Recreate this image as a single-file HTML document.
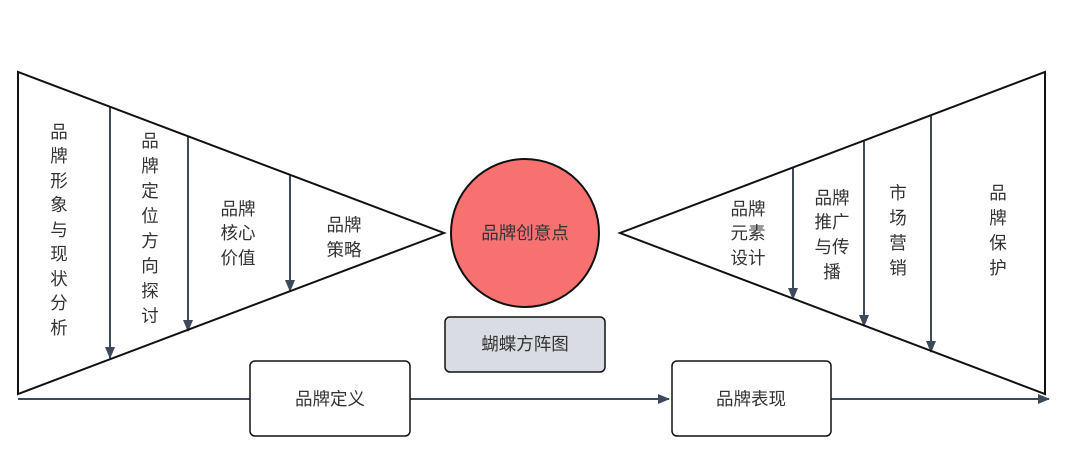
<!DOCTYPE html>
<html><head><meta charset="utf-8"><style>
body{margin:0;width:1070px;height:467px;background:#fff;overflow:hidden}
svg text{font-family:"Liberation Sans","Noto Sans CJK SC",sans-serif;font-size:17.5px;fill:#333;text-anchor:middle;dominant-baseline:central}
</style></head><body>
<svg width="1070" height="467" xmlns="http://www.w3.org/2000/svg">
<defs><marker id="a" markerWidth="12" markerHeight="10" refX="11" refY="5" orient="auto" markerUnits="userSpaceOnUse"><path d="M0,0 L12,5 L0,10 Z" fill="#3d4a5c"/></marker></defs>
<g stroke="#3d4a5c" stroke-width="2" fill="none">
<line x1="18" y1="399" x2="669" y2="399" marker-end="url(#a)"/>
<line x1="831" y1="399" x2="1049" y2="399" marker-end="url(#a)"/>
<line x1="110" y1="107" x2="110" y2="358" marker-end="url(#a)"/>
<line x1="188" y1="136" x2="188" y2="331" marker-end="url(#a)"/>
<line x1="290" y1="175" x2="290" y2="291" marker-end="url(#a)"/>
<line x1="793" y1="167" x2="793" y2="299" marker-end="url(#a)"/>
<line x1="864" y1="140" x2="864" y2="326" marker-end="url(#a)"/>
<line x1="931" y1="115" x2="931" y2="352" marker-end="url(#a)"/>
</g>
<polygon points="18,72 18,394 444,233" fill="none" stroke="#111" stroke-width="2"/>
<polygon points="1045,72 1045,394 620,233" fill="none" stroke="#111" stroke-width="2"/>
<circle cx="525" cy="233" r="74" fill="#f87171" stroke="#111" stroke-width="2"/>
<rect x="445" y="317" width="160" height="55" rx="5" fill="#d9dce3" stroke="#111" stroke-width="1.5"/>
<rect x="250" y="361" width="160" height="75" rx="5" fill="#fff" stroke="#111" stroke-width="1.5"/>
<rect x="672" y="361" width="159" height="75" rx="5" fill="#fff" stroke="#111" stroke-width="1.5"/>
<text x="525" y="233">品牌创意点</text>
<text x="525" y="344">蝴蝶方阵图</text>
<text x="330" y="399">品牌定义</text>
<text x="751" y="399">品牌表现</text>
<g>
<text x="59" y="132">品</text><text x="59" y="156">牌</text><text x="59" y="181">形</text><text x="59" y="205">象</text><text x="59" y="230">与</text><text x="59" y="254">现</text><text x="59" y="279">状</text><text x="59" y="303">分</text><text x="59" y="328">析</text>
<text x="150" y="141">品</text><text x="150" y="166">牌</text><text x="150" y="191">定</text><text x="150" y="216">位</text><text x="150" y="241">方</text><text x="150" y="266">向</text><text x="150" y="291">探</text><text x="150" y="316">讨</text>
<text x="238" y="209">品牌</text><text x="238" y="233">核心</text><text x="238" y="258">价值</text>
<text x="344" y="225">品牌</text><text x="344" y="250">策略</text>
<text x="748" y="209">品牌</text><text x="748" y="233">元素</text><text x="748" y="258">设计</text>
<text x="832" y="198">品牌</text><text x="832" y="222">推广</text><text x="832" y="247">与传</text><text x="832" y="272">播</text>
<text x="898" y="193">市</text><text x="898" y="218">场</text><text x="898" y="243">营</text><text x="898" y="268">销</text>
<text x="998" y="193">品</text><text x="998" y="218">牌</text><text x="998" y="243">保</text><text x="998" y="268">护</text>
</g>
</svg>
</body></html>
